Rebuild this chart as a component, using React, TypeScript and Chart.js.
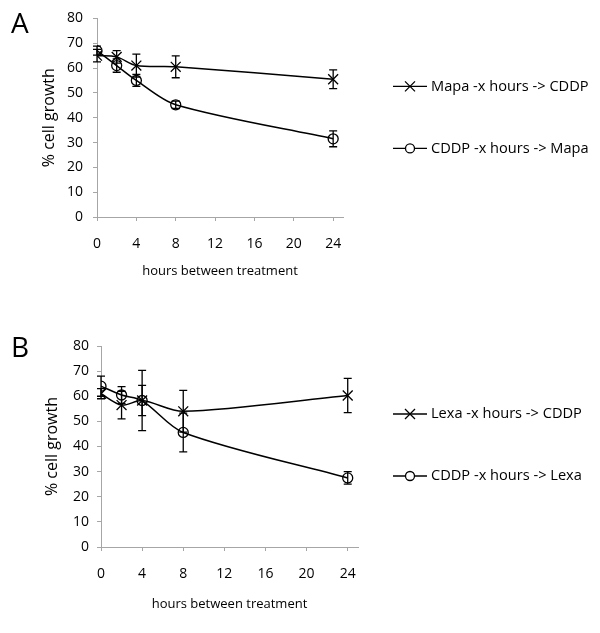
import React, { useEffect, useRef } from "react";
import { Chart, registerables } from "chart.js";

Chart.register(...registerables);

// ---- data ----
const hours = [0, 2, 4, 8, 24];
const xTickValues = [0, 4, 8, 12, 16, 20, 24];

const mapaCddp = [65, 64.5, 61, 60.5, 55.5];
const mapaCddpErr = [2.5, 2.5, 4.6, 4.4, 3.8];
const cddpMapa = [67, 61, 55, 45.2, 31.5];
const cddpMapaErr = [1.8, 2.7, 2.4, 1.5, 3.2];

const lexaCddp = [61, 56.5, 58.3, 54, 60.3];
const lexaCddpErr = [2, 5.5, 12, 8.3, 6.8];
const cddpLexa = [64, 60.5, 58.3, 45.6, 27.5];
const cddpLexaErr = [4, 3.3, 6, 7.7, 2.5];

const labelsA = ["Mapa -x hours -> CDDP", "CDDP -x hours -> Mapa"];
const labelsB = ["Lexa -x hours -> CDDP", "CDDP -x hours -> Lexa"];

const FONT = "'Open Sans', 'DejaVu Sans', sans-serif";
const AXIS_GRAY = "#a6a6a6";

type PanelProps = {
  top: number;
  height: number;
  labels: string[];
  series: number[][];
  errors: number[][];
  padTop: number;
  padRight: number;
  yWidth: number;
  xHeight: number;
  yTickPad: number;
  yTitlePad: number;
  xTitlePad: number;
  legendX: number;
};

const errorBarPlugin = {
  id: "errorBars",
  afterDatasetsDraw(chart: any) {
    const errs: number[][] = chart.options.plugins.errorBars.errors;
    const yScale = chart.scales.y;
    const ctx = chart.ctx;
    ctx.save();
    ctx.strokeStyle = "#000";
    ctx.lineWidth = 1.3;
    chart.data.datasets.forEach((ds: any, di: number) => {
      const meta = chart.getDatasetMeta(di);
      meta.data.forEach((pt: any, i: number) => {
        const v = ds.data[i].y;
        const e = errs[di][i];
        const yTop = yScale.getPixelForValue(v + e);
        const yBot = yScale.getPixelForValue(v - e);
        const x = pt.x;
        const cap = 4;
        ctx.beginPath();
        ctx.moveTo(x, yTop);
        ctx.lineTo(x, yBot);
        ctx.moveTo(x - cap, yTop);
        ctx.lineTo(x + cap, yTop);
        ctx.moveTo(x - cap, yBot);
        ctx.lineTo(x + cap, yBot);
        ctx.stroke();
      });
    });
    ctx.restore();
  },
};

const sideLegendPlugin = {
  id: "sideLegend",
  afterDraw(chart: any) {
    const opts = chart.options.plugins.sideLegend;
    const ctx = chart.ctx;
    const area = chart.chartArea;
    ctx.save();
    chart.data.datasets.forEach((ds: any, i: number) => {
      const y = area.top + opts.offsets[i];
      const x0 = opts.x;
      const len = 34;
      ctx.strokeStyle = "#000";
      ctx.lineWidth = 1.3;
      ctx.beginPath();
      ctx.moveTo(x0, y);
      ctx.lineTo(x0 + len, y);
      ctx.stroke();
      const cx = x0 + len / 2;
      ctx.beginPath();
      if (ds.pointStyle === "crossRot") {
        const r = 5;
        ctx.moveTo(cx - r, y - r);
        ctx.lineTo(cx + r, y + r);
        ctx.moveTo(cx - r, y + r);
        ctx.lineTo(cx + r, y - r);
      } else {
        ctx.arc(cx, y, 4.5, 0, Math.PI * 2);
        ctx.fillStyle = "#fff";
        ctx.fill();
      }
      ctx.stroke();
      ctx.fillStyle = "#000";
      ctx.font = `14.6px ${FONT}`;
      ctx.textBaseline = "middle";
      ctx.textAlign = "left";
      ctx.fillText(ds.label, x0 + len + 4, y);
    });
    ctx.restore();
  },
};

function Panel(p: PanelProps) {
  const ref = useRef<HTMLCanvasElement | null>(null);
  useEffect(() => {
    if (!ref.current) return;
    const styles = ["crossRot", "circle"];
    const chart = new Chart(ref.current, {
      type: "line",
      data: {
        datasets: p.series.map((vals, si) => ({
          label: p.labels[si],
          data: hours.map((h, i) => ({ x: h, y: vals[i] })),
          borderColor: "#000",
          borderWidth: 1.5,
          backgroundColor: "rgba(0,0,0,0)",
          pointStyle: styles[si] as any,
          pointRadius: si === 0 ? 7 : 5,
          pointBorderColor: "#000",
          pointBorderWidth: 1.3,
          pointBackgroundColor: "rgba(0,0,0,0)",
          tension: 0.3,
          fill: false,
        })),
      },
      options: {
        animation: false,
        responsive: false,
        layout: { padding: { left: 0, top: p.padTop, right: p.padRight, bottom: 0 } },
        plugins: {
          legend: { display: false },
          tooltip: { enabled: false },
          errorBars: { errors: p.errors },
          sideLegend: { x: p.legendX, offsets: [68, 130] },
        } as any,
        scales: {
          x: {
            type: "linear",
            min: 0,
            max: 25,
            afterFit: (s: any) => { s.height = p.xHeight; },
            afterBuildTicks: (s: any) => { s.ticks = xTickValues.map((v) => ({ value: v })); },
            ticks: { color: "#000", font: { family: FONT, size: 14 }, padding: 15, maxRotation: 0 },
            grid: { drawOnChartArea: false, tickLength: 4, color: AXIS_GRAY },
            border: { color: AXIS_GRAY, width: 1 },
            title: {
              display: true,
              text: "hours between treatment",
              color: "#000",
              font: { family: FONT, size: 13 },
              padding: { top: 0, bottom: p.xTitlePad },
            },
          },
          y: {
            min: 0,
            max: 80,
            afterFit: (s: any) => { s.width = p.yWidth; },
            ticks: { stepSize: 10, color: "#000", font: { family: FONT, size: 14 }, padding: p.yTickPad },
            grid: { drawOnChartArea: false, tickLength: 4, color: AXIS_GRAY },
            border: { color: AXIS_GRAY, width: 1 },
            title: {
              display: true,
              text: "% cell growth",
              color: "#000",
              font: { family: FONT, size: 16 },
              padding: { top: p.yTitlePad, bottom: 0 },
            },
          },
        },
      },
      plugins: [errorBarPlugin, sideLegendPlugin],
    });
    return () => chart.destroy();
  }, []);
  return (
    <canvas
      ref={ref}
      width={600}
      height={p.height}
      style={{ position: "absolute", left: 0, top: p.top, width: 600, height: p.height }}
    />
  );
}

export default function App() {
  return (
    <div
      style={{
        position: "fixed",
        left: 0,
        top: 0,
        width: 600,
        height: 633,
        background: "#fff",
        overflow: "hidden",
      }}
    >
      <Panel
        top={0}
        height={300}
        labels={labelsA}
        series={[mapaCddp, cddpMapa]}
        errors={[mapaCddpErr, cddpMapaErr]}
        padTop={17}
        padRight={257}
        yWidth={97}
        xHeight={83}
        yTickPad={10}
        yTitlePad={40}
        xTitlePad={21}
        legendX={393}
      />
      <Panel
        top={310}
        height={323}
        labels={labelsB}
        series={[lexaCddp, cddpLexa]}
        errors={[lexaCddpErr, cddpLexaErr]}
        padTop={36}
        padRight={242}
        yWidth={101}
        xHeight={86}
        yTickPad={8}
        yTitlePad={43}
        xTitlePad={21}
        legendX={393}
      />
      <div style={{ position: "absolute", left: 11, top: 3, fontFamily: FONT, fontSize: 28, lineHeight: "normal", color: "#000" }}>A</div>
      <div style={{ position: "absolute", left: 11, top: 327, fontFamily: FONT, fontSize: 28, lineHeight: "normal", color: "#000" }}>B</div>
    </div>
  );
}
